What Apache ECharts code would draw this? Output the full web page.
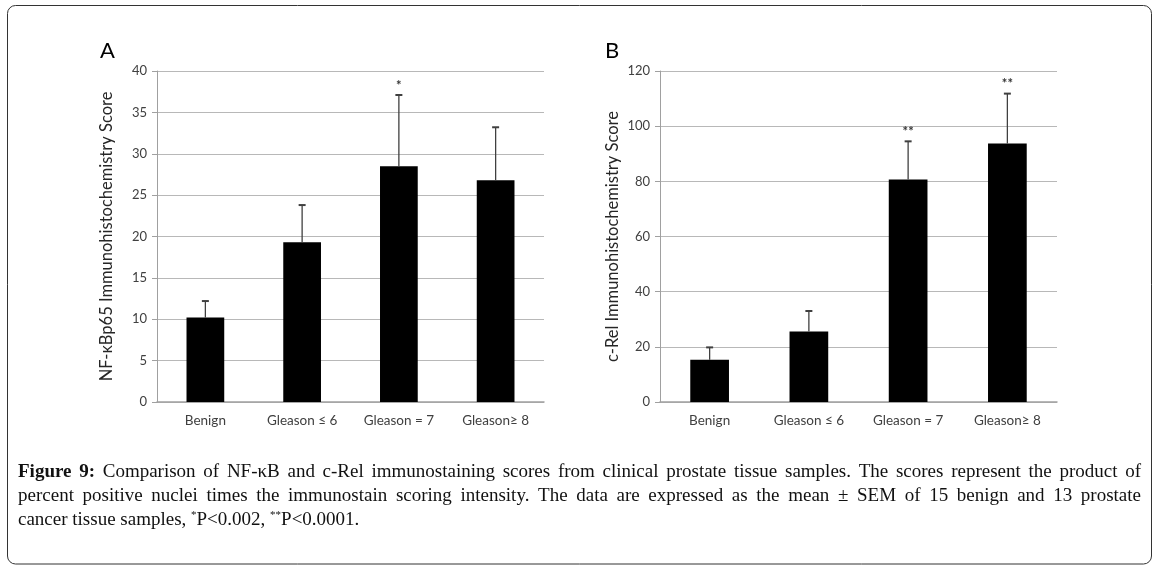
<!DOCTYPE html>
<html><head><meta charset="utf-8">
<script src="https://cdn.jsdelivr.net/npm/echarts@6/dist/echarts.min.js"></script>
<style>html,body{margin:0;padding:0;background:#fff}#c{width:1156px;height:571px}</style>
</head><body><div id="c"></div>
<script>
const categories = ['Benign', 'Gleason \u2264 6', 'Gleason = 7', 'Gleason\u2265 8'];
const meanA = [10.2, 19.3, 28.5, 26.8];
const errTopA = [12.2, 23.8, 37.1, 33.2];
const starsA = ['', '', '*', ''];
const meanB = [15.3, 25.6, 80.7, 93.7];
const errTopB = [19.8, 33.0, 94.5, 111.8];
const starsB = ['', '', '**', '**'];
const ticksA = [0, 5, 10, 15, 20, 25, 30, 35, 40];
const ticksB = [0, 20, 40, 60, 80, 100, 120];
const nameA = 'NF-\u03baBp65 Immunohistochemistry Score';
const nameB = 'c-Rel Immunohistochemistry Score';
const captionBold = 'Figure 9:';
const captionLine1 = 'Comparison of NF-\u03baB and c-Rel immunostaining scores from clinical prostate tissue samples. The scores represent the product of';
const captionLine2 = 'percent positive nuclei times the immunostain scoring intensity. The data are expressed as the mean \u00b1 SEM of 15 benign and 13 prostate';
const captionLine3 = 'cancer tissue samples, {s|*}P<0.002, {s|**}P<0.0001.';

const chart = echarts.init(document.getElementById('c'));
const FONT = 'Lato';
const axisGray = '#a0a0a0';
function xAxis(gi){
  return {type:'category', gridIndex:gi, data:categories,
    axisLine:{lineStyle:{color:axisGray, width:1.5}}, axisTick:{show:false},
    axisLabel:{color:'#404040', fontFamily:FONT, fontSize:13.5, margin:12}};
}
function yAxis(gi, ticks, name, gap){
  return {type:'value', gridIndex:gi, min:ticks[0], max:ticks[ticks.length-1], interval:ticks[1]-ticks[0],
    name:name, nameLocation:'middle', nameGap:gap, nameRotate:90,
    nameTextStyle:{color:'#262626', fontFamily:FONT, fontSize:16.5},
    axisLine:{show:true, lineStyle:{color:axisGray, width:1}},
    axisTick:{show:true, length:5, lineStyle:{color:axisGray}},
    axisLabel:{color:'#404040', fontFamily:FONT, fontSize:13, margin:10},
    splitLine:{lineStyle:{color:'#b8b8b8', width:1.2}}};
}
function errSeries(gi, mean, top, stars){
  return {type:'custom', xAxisIndex:gi, yAxisIndex:gi, z:5,
    data: mean.map((m,i)=>[i, m, top[i]]),
    renderItem(params, api){
      const i = api.value(0);
      const p0 = api.coord([i, api.value(1)]);
      const p1 = api.coord([i, api.value(2)]);
      const ls = {stroke:'#404040', lineWidth:1.3};
      const ch = [
        {type:'line', shape:{x1:p0[0], y1:p0[1], x2:p1[0], y2:p1[1]}, style:ls},
        {type:'line', shape:{x1:p1[0]-3.5, y1:p1[1], x2:p1[0]+3.5, y2:p1[1]}, style:{stroke:'#404040', lineWidth:2}}
      ];
      const s = stars[params.dataIndex];
      if (s) ch.push({type:'text', x:p1[0], y:p1[1]-3, style:{text:s, fill:'#333', font:'bold 13px Lato', align:'center', verticalAlign:'bottom'}});
      return {type:'group', children:ch};
    }};
}
const capFont = 'Liberation Serif';
const capSize = 19;
const capX0 = 18, capX1 = 1141;
const mctx = document.createElement('canvas').getContext('2d');
function measure(t, bold){ mctx.font = (bold?'bold ':'') + capSize + 'px "' + capFont + '"'; return mctx.measureText(t).width; }
function justified(tokens, y){
  const widths = tokens.map(k => measure(k.t, k.bold));
  const sum = widths.reduce((a,b)=>a+b, 0);
  const gap = (capX1 - capX0 - sum) / (tokens.length - 1);
  let x = capX0;
  return tokens.map((k, i) => {
    const el = {type:'text', x:x, y:y, style:{text:k.t, fontFamily:capFont, fontSize:capSize, fontWeight:k.bold?'bold':'normal', fill:'#111', verticalAlign:'middle'}};
    x += widths[i] + gap;
    return el;
  });
}
const tok1 = captionBold.split(' ').map(t=>({t, bold:true})).concat(captionLine1.split(' ').map(t=>({t, bold:false})));
const tok2 = captionLine2.split(' ').map(t=>({t, bold:false}));

chart.setOption({
  animation:false,
  grid:[{left:157, top:71, width:387, height:331}, {left:660, top:71, width:397, height:331}],
  xAxis:[xAxis(0), xAxis(1)],
  yAxis:[yAxis(0, ticksA, nameA, 42), yAxis(1, ticksB, nameB, 39)],
  series:[
    {type:'bar', xAxisIndex:0, yAxisIndex:0, data:meanA, barWidth:'39%', itemStyle:{color:'#000'}},
    errSeries(0, meanA, errTopA, starsA),
    {type:'bar', xAxisIndex:1, yAxisIndex:1, data:meanB, barWidth:'39%', itemStyle:{color:'#000'}},
    errSeries(1, meanB, errTopB, starsB)
  ],
  graphic:[
    {type:'rect', shape:{x:7.5, y:5.5, width:1144, height:558.5, r:8}, style:{fill:'none', stroke:'#333', lineWidth:1}},
    {type:'text', x:100, y:40, style:{text:'A', font:'22px Lato', fill:'#000'}},
    {type:'text', x:605, y:40, style:{text:'B', font:'22px Lato', fill:'#000'}}
  ].concat(justified(tok1, 472)).concat(justified(tok2, 496)).concat([
    {type:'text', x:capX0, y:520, style:{text:captionLine3,
      fontFamily:capFont, fontSize:capSize, fill:'#111', verticalAlign:'middle', rich:{s:{fontFamily:capFont, fontSize:11, padding:[0,0,10,0]}}}}
  ])
});
</script></body></html>
